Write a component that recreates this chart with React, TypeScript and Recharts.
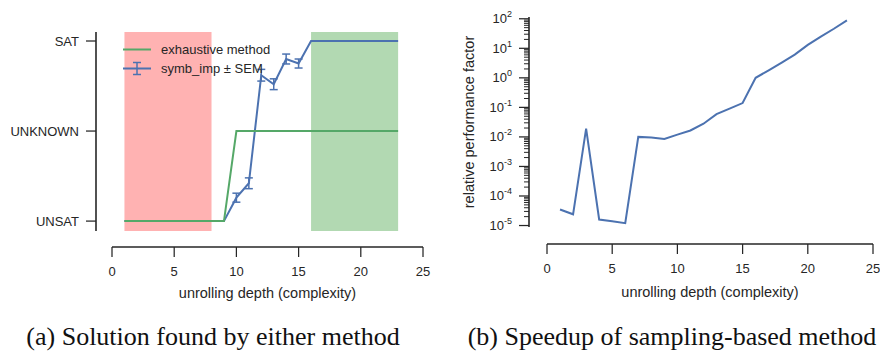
import React from 'react';
import {
  ComposedChart, LineChart, Line, XAxis, YAxis, ReferenceArea, ErrorBar, Legend,
} from 'recharts';

// unrolling depth 1..23
const depth = [1, 2, 3, 4, 5, 6, 7, 8, 9, 10, 11, 12, 13, 14, 15, 16, 17, 18, 19, 20, 21, 22, 23];
// 0 = UNSAT, 1 = UNKNOWN, 2 = SAT
const exhaustive = [0, 0, 0, 0, 0, 0, 0, 0, 0, 1, 1, 1, 1, 1, 1, 1, 1, 1, 1, 1, 1, 1, 1];
const symbImp = [0, 0, 0, 0, 0, 0, 0, 0, 0, 0.26, 0.42, 1.62, 1.52, 1.8, 1.75, 2, 2, 2, 2, 2, 2, 2, 2];
const symbSem = [0, 0, 0, 0, 0, 0, 0, 0, 0, 0.05, 0.06, 0.065, 0.06, 0.055, 0.05, 0, 0, 0, 0, 0, 0, 0, 0];
const speedup = [
  3.5e-5, 2.4e-5, 1.9e-2, 1.6e-5, 1.4e-5, 1.2e-5, 1.0e-2, 9.5e-3, 8.5e-3, 1.2e-2, 1.65e-2, 2.8e-2,
  5.9e-2, 9.1e-2, 0.14, 1.0, 1.8, 3.3, 6.1, 13, 25, 46, 88,
];

const xTicks = [0, 5, 10, 15, 20, 25];
const statusTicks = [0, 1, 2];
const statusLabels = ['UNSAT', 'UNKNOWN', 'SAT'];
const decades = [-5, -4, -3, -2, -1, 0, 1, 2];

const solutionData = depth.map((d, i) => ({ d, exh: exhaustive[i], imp: symbImp[i], sem: symbSem[i] }));
const speedupData = depth.map((d, i) => ({ d, f: speedup[i] }));

const logTicks: number[] = [];
decades.forEach((k, i) => {
  logTicks.push(Math.pow(10, k));
  if (i < decades.length - 1) for (let m = 2; m < 10; m++) logTicks.push(m * Math.pow(10, k));
});

const BLUE = '#4C72B0';
const GREEN = '#55A868';
const INK = '#262626';
const FONT = '"Liberation Sans", Arial, sans-serif';
const labelStyle = { fontSize: 14.5, fill: INK, fontFamily: FONT };
const axisLine = { stroke: INK, strokeWidth: 1.6 };

// seaborn-style despined axes: spines pushed outward
const css = `
.figA .recharts-xAxis .recharts-cartesian-axis-line { transform: translate(0px, 16px); }
.figA .recharts-yAxis .recharts-cartesian-axis-line { transform: translate(-16px, 0px); }
.figB .recharts-xAxis .recharts-cartesian-axis-line { transform: translate(0px, 17px); }
.figB .recharts-yAxis .recharts-cartesian-axis-line { transform: translate(-18px, 0px); }
`;

const makeXTick = (shift: number) => (props: any) => {
  const { x, y, payload } = props;
  const y0 = y + shift;
  return (
    <g>
      <line x1={x} y1={y0} x2={x} y2={y0 + 10} stroke={INK} strokeWidth={1.25} />
      <text x={x} y={y0 + 29} textAnchor="middle" fontSize={13} fill={INK} fontFamily={FONT}>{payload.value}</text>
    </g>
  );
};

const makeStatusTick = (shift: number) => (props: any) => {
  const { x, y, payload } = props;
  const x0 = x - shift;
  return (
    <g>
      <line x1={x0 - 10} y1={y} x2={x0} y2={y} stroke={INK} strokeWidth={1.25} />
      <text x={x0 - 17} y={y + 4.6} textAnchor="end" fontSize={13} fill={INK} fontFamily={FONT}>
        {statusLabels[payload.value]}
      </text>
    </g>
  );
};

const makeLogTick = (shift: number) => (props: any) => {
  const { x, y, payload } = props;
  const x0 = x - shift;
  const v = payload.value as number;
  const k = Math.round(Math.log10(v));
  const major = Math.abs(Math.log10(v) - k) < 1e-6;
  if (!major) {
    return <line x1={x0 - 5} y1={y} x2={x0} y2={y} stroke={INK} strokeWidth={1} />;
  }
  return (
    <g>
      <line x1={x0 - 10} y1={y} x2={x0} y2={y} stroke={INK} strokeWidth={1.25} />
      <text x={x0 - 17} y={y + 4.5} textAnchor="end" fontSize={13} fill={INK} fontFamily={FONT}>
        10<tspan dy={-6} fontSize={9}>{k}</tspan>
      </text>
    </g>
  );
};

function SolutionLegend() {
  return (
    <div style={{ fontFamily: FONT, fontSize: 13, color: INK }}>
      <div style={{ display: 'flex', alignItems: 'center', height: 19 }}>
        <svg width={28} height={19}><line x1={0} y1={9.5} x2={28} y2={9.5} stroke={GREEN} strokeWidth={2} /></svg>
        <span style={{ marginLeft: 10 }}>exhaustive method</span>
      </div>
      <div style={{ display: 'flex', alignItems: 'center', height: 19 }}>
        <svg width={28} height={19}>
          <line x1={0} y1={9.5} x2={28} y2={9.5} stroke={BLUE} strokeWidth={2} />
          <line x1={14} y1={3.5} x2={14} y2={15.5} stroke={BLUE} strokeWidth={1.5} />
          <line x1={10} y1={3.5} x2={18} y2={3.5} stroke={BLUE} strokeWidth={1.5} />
          <line x1={10} y1={15.5} x2={18} y2={15.5} stroke={BLUE} strokeWidth={1.5} />
        </svg>
        <span style={{ marginLeft: 10 }}>symb_imp ± SEM</span>
      </div>
    </div>
  );
}

const captionStyle: React.CSSProperties = {
  position: 'absolute', top: 324, fontFamily: '"Liberation Serif", "Times New Roman", serif',
  fontSize: 26, lineHeight: '26px', color: '#111', whiteSpace: 'nowrap', textAlign: 'center',
};

export default function App() {
  return (
    <div style={{ position: 'absolute', left: 0, top: 0, width: 880, height: 352, background: '#fff', overflow: 'hidden' }}>
      <style>{css}</style>
      <div className="figA" style={{ position: 'absolute', left: 0, top: 0 }}>
        <ComposedChart width={440} height={310} data={solutionData} margin={{ top: 32, right: 17, bottom: 24, left: 12 }}>
          <XAxis
            dataKey="d" type="number" domain={[0, 25]} ticks={xTicks} interval={0}
            axisLine={axisLine} tickLine={false} tickSize={0} tickMargin={0} tick={makeXTick(16)} height={55}
            label={{ value: 'unrolling depth (complexity)', position: 'insideBottom', offset: -11.5, style: labelStyle }}
          />
          <YAxis
            type="number" domain={[-0.11, 2.1]} ticks={statusTicks} interval={0} width={100}
            axisLine={axisLine} tickLine={false} tickSize={0} tickMargin={0} tick={makeStatusTick(16)}
          />
          <ReferenceArea x1={1} x2={8} fill="#ff0000" fillOpacity={0.3} stroke="none" />
          <ReferenceArea x1={16} x2={23} fill="#008000" fillOpacity={0.3} stroke="none" />
          <Line dataKey="imp" type="linear" stroke={BLUE} strokeWidth={2} dot={false} isAnimationActive={false}>
            <ErrorBar dataKey="sem" width={4} stroke={BLUE} strokeWidth={1.5} isAnimationActive={false} />
          </Line>
          <Line dataKey="exh" type="linear" stroke={GREEN} strokeWidth={2} dot={false} isAnimationActive={false} />
          <Legend
            content={<SolutionLegend />} layout="vertical" align="center" verticalAlign="middle"
            wrapperStyle={{ top: 39.5, left: 123, width: 200 }}
          />
        </ComposedChart>
      </div>
      <div className="figB" style={{ position: 'absolute', left: 440, top: 0 }}>
        <LineChart width={440} height={310} data={speedupData} margin={{ top: 17, right: 7, bottom: 27, left: 27 }}>
          <XAxis
            dataKey="d" type="number" domain={[0, 25]} ticks={xTicks} interval={0}
            axisLine={axisLine} tickLine={false} tickSize={0} tickMargin={0} tick={makeXTick(17)} height={56}
            label={{ value: 'unrolling depth (complexity)', position: 'insideBottom', offset: -13.5, style: labelStyle }}
          />
          <YAxis
            scale="log" type="number" domain={[Math.pow(10, -5.05), Math.pow(10, 2.06)]} allowDataOverflow
            ticks={logTicks} interval={0} width={80} axisLine={axisLine} tickLine={false}
            tickSize={0} tickMargin={0} tick={makeLogTick(18)}
            label={{
              value: 'relative performance factor', angle: -90, position: 'insideLeft', offset: 2,
              style: { ...labelStyle, textAnchor: 'middle' },
            }}
          />
          <Line dataKey="f" type="linear" stroke={BLUE} strokeWidth={2} dot={false} isAnimationActive={false} />
        </LineChart>
      </div>
      <div style={{ ...captionStyle, left: 26, width: 374 }}>(a) Solution found by either method</div>
      <div style={{ ...captionStyle, left: 465, width: 414 }}>(b) Speedup of sampling-based method</div>
    </div>
  );
}
